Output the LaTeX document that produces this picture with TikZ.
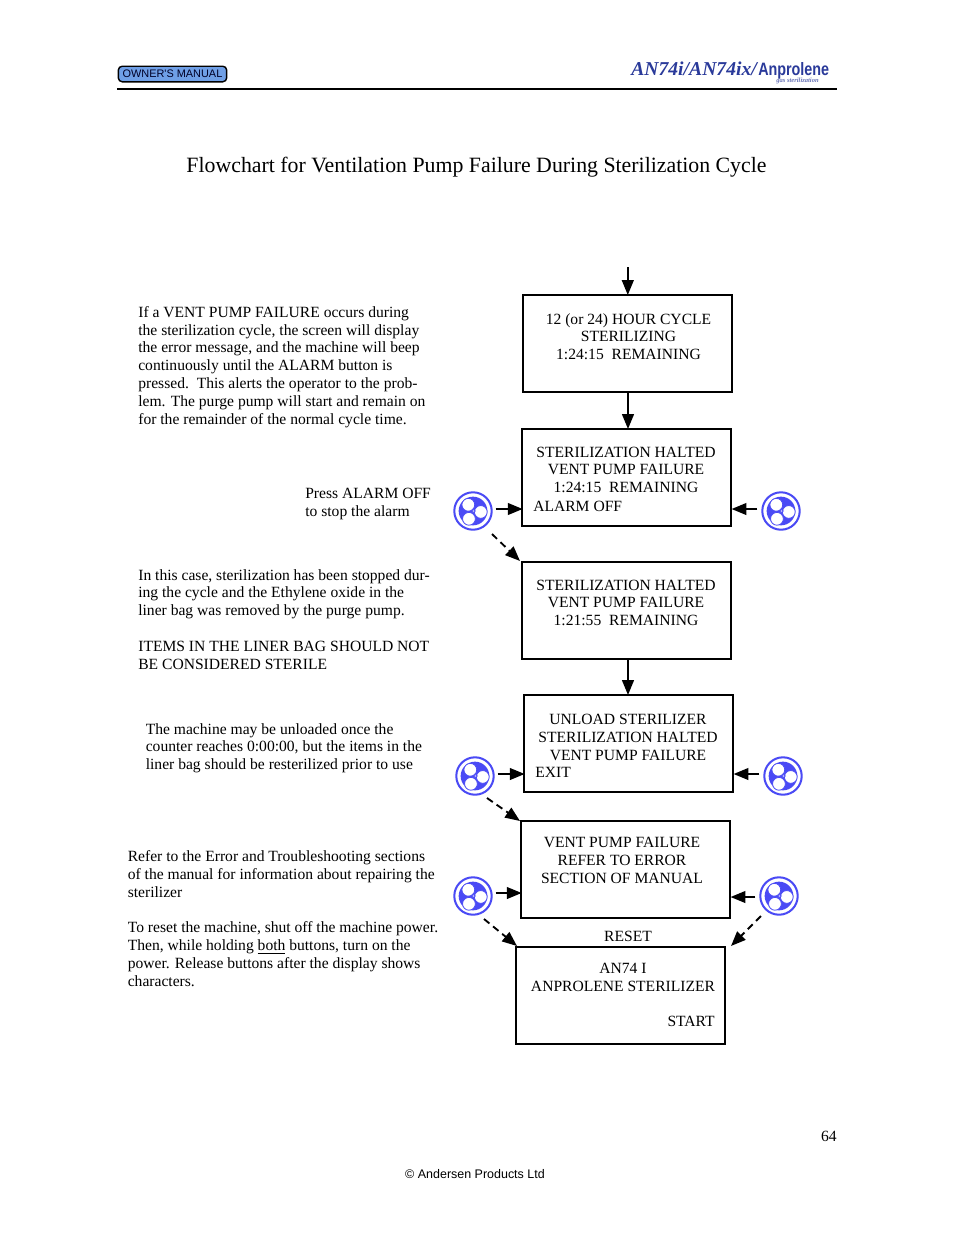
\documentclass[tikz,border=0pt]{standalone}
\usepackage{fontspec}
\setmainfont{Liberation Serif}
\newfontfamily\hdsans{Liberation Sans}
\usetikzlibrary{arrows.meta,calc}
\definecolor{fanblue}{HTML}{4A4AF5}
\definecolor{badge}{HTML}{6F9FE6}
\definecolor{logoblue}{HTML}{2A3A9A}
\tikzset{
  x=0.6415pt,y=-0.6415pt,
  box/.style={draw=black,line width=1.25pt,inner sep=0pt,outer sep=0pt,minimum width=134pt,minimum height=62.2pt,anchor=north west},
  txt/.style={inner sep=0pt,align=left,anchor=north west,font=\fontsize{10}{11.45}\selectfont},
  ctr/.style={inner sep=0pt,align=center,anchor=north,font=\fontsize{10}{11.45}\selectfont},
  arr/.style={line width=1.2pt,-{Triangle[length=9.5pt,width=7.5pt]}},
  darr/.style={line width=1.2pt,dash pattern=on 4.5pt off 3pt,-{Triangle[length=9.5pt,width=7.5pt]}},
  fan/.style={circle,inner sep=0pt,minimum size=24pt,
    path picture={
      \coordinate (c) at (path picture bounding box.center);
      \fill[fanblue] (c) circle[radius=9.2pt];
      \draw[fanblue,line width=.5pt,fill=white] ($(c)+(-3pt,4pt)$) circle[radius=4.1pt];
      \draw[fanblue,line width=.5pt,fill=white] ($(c)+(5pt,-.6pt)$) circle[radius=4.1pt];
      \draw[fanblue,line width=.5pt,fill=white] ($(c)+(-2.6pt,-5pt)$) circle[radius=4.1pt];
      \draw[fanblue,line width=.4pt,fill=white] ($(c)+(-.2pt,1.1pt)$)--($(c)+(1.6pt,0pt)$)--($(c)+(-.2pt,-1.1pt)$)--cycle;
    },
    draw=fanblue,line width=1.3pt}
}
\begin{document}
\begin{tikzpicture}
\useasboundingbox[fill=white] (0,0) rectangle (954,1235);
% header
\node[draw=black,line width=.9pt,fill=badge,rounded corners=2.5pt,inner sep=0pt,minimum width=69.5pt,minimum height=10pt,font=\hdsans\fontsize{7}{7}\selectfont,text=black!85!blue] (badgebox) at (172.5,74) {OWNER'S MANUAL};
\coordinate (ruleL) at (117,89);
\coordinate (ruleR) at (837,89);
\draw[line width=1.5pt] (ruleL) -- (ruleR);
\node[inner sep=0pt,anchor=base west,text=logoblue,font=\fontsize{12.6}{12.6}\selectfont\bfseries\itshape] (logoa) at (631,75) {AN74i/AN74ix/};
\node[inner sep=0pt,anchor=base west,text=logoblue,xscale=.8,font=\hdsans\fontsize{11.5}{11.5}\selectfont\bfseries] (logob) at (758,75) {Anprolene};
\node[inner sep=0pt,anchor=base west,text=logoblue!70,font=\fontsize{4.2}{4.2}\selectfont\itshape\bfseries] (logoc) at (776,82.5) {gas sterilization};
% title
\node[inner sep=0pt,anchor=base,font=\fontsize{14}{14}\selectfont] (title) at (476.5,172) {Flowchart for Ventilation Pump Failure During Sterilization Cycle};
% boxes
\node[box] (b1) at (523,295) {};
\node[box] (b2) at (522,429) {};
\node[box] (b3) at (522,562) {};
\node[box] (b4) at (524,695) {};
\node[box] (b5) at (521,821) {};
\node[box] (b6) at (516,947) {};
% box texts
\node[ctr] (t1) at (628.5,313) {12 (or 24) HOUR CYCLE\\STERILIZING\\1:24:15\ \ REMAINING};
\node[ctr] (t2) at (626,446.5) {STERILIZATION HALTED\\VENT PUMP FAILURE\\1:24:15\ \ REMAINING};
\node[txt] (t2b) at (533,501) {ALARM OFF};
\node[ctr] (t3) at (626,579.5) {STERILIZATION HALTED\\VENT PUMP FAILURE\\1:21:55\ \ REMAINING};
\node[ctr] (t4) at (628,714) {UNLOAD STERILIZER\\STERILIZATION HALTED\\VENT PUMP FAILURE};
\node[txt] (t4b) at (535,767) {EXIT};
\node[ctr] (t5) at (622,837) {VENT PUMP FAILURE\\REFER TO ERROR\\SECTION OF MANUAL};
\node[ctr] (t5b) at (628,931) {RESET};
\node[ctr] (t6) at (623,963) {AN74 I\\ANPROLENE STERILIZER};
\node[inner sep=0pt,anchor=north east,font=\fontsize{10}{11.45}\selectfont] (t6b) at (715,1016) {START};
% side texts
\node[txt] (s1) at (138,306) {If a VENT PUMP FAILURE occurs during\\the sterilization cycle, the screen will display\\the error message, and the machine will beep\\continuously until the ALARM button is\\pressed.\ \ This alerts the operator to the prob-\\lem. The purge pump will start and remain on\\for the remainder of the normal cycle time.};
\node[txt] (s2) at (305,488) {Press ALARM OFF\\to stop the alarm};
\node[txt] (s3) at (138,569) {In this case, sterilization has been stopped dur-\\ing the cycle and the Ethylene oxide in the\\liner bag was removed by the purge pump.\\[\baselineskip]ITEMS IN THE LINER BAG SHOULD NOT\\BE CONSIDERED STERILE};
\node[txt] (s4) at (145.5,723) {The machine may be unloaded once the\\counter reaches 0:00:00, but the items in the\\liner bag should be resterilized prior to use};
\node[txt] (s5) at (127.5,850) {Refer to the Error and Troubleshooting sections\\of the manual for information about repairing the\\sterilizer\\[\baselineskip]To reset the machine, shut off the machine power.\\Then, while holding \underline{both} buttons, turn on the\\power. Release buttons after the display shows\\characters.};
% fans
\node[fan] (f1) at (473,511) {};
\node[fan] (f2) at (781,511) {};
\node[fan] (f3) at (475,776) {};
\node[fan] (f4) at (783,776) {};
\node[fan] (f5) at (473,896) {};
\node[fan] (f6) at (779,896) {};
% connectors
\coordinate (top) at (627.8,267);
\coordinate (m1) at (628,300);
\draw[arr] (top) -- (top |- b1.north);
\draw[arr] (m1 |- b1.south) -- (m1 |- b2.north);
\draw[arr] (m1 |- b3.south) -- (m1 |- b4.north);
\draw[arr,shorten >=1.5pt] ([shift={(3,-2)}]f1.east) -- ([shift={(3,-2)}]f1.east -| b2.west);
\draw[arr,shorten >=3pt] ([shift={(-4,-2)}]f2.west) -- ([shift={(-4,-2)}]f2.west -| b2.east);
\draw[arr,shorten >=1.5pt] ([shift={(3,-2)}]f3.east) -- ([shift={(3,-2)}]f3.east -| b4.west);
\draw[arr,shorten >=3pt] ([shift={(-4,-2)}]f4.west) -- ([shift={(-4,-2)}]f4.west -| b4.east);
\draw[arr,shorten >=1.5pt] ([shift={(3,-3)}]f5.east) -- ([shift={(3,-3)}]f5.east -| b5.west);
\draw[arr,shorten >=3pt] ([shift={(-4,1)}]f6.west) -- ([shift={(-4,1)}]f6.west -| b5.east);
\coordinate (d1) at (492,534); \coordinate (d1e) at (520,561);
\coordinate (d2) at (487,798); \coordinate (d2e) at (520,821);
\coordinate (d3) at (484,919); \coordinate (d3e) at (517,946);
\coordinate (d4) at (761,916); \coordinate (d4e) at (731,946);
\draw[darr] (d1) -- (d1e);
\draw[darr] (d2) -- (d2e);
\draw[darr] (d3) -- (d3e);
\draw[darr] (d4) -- (d4e);
% footer
\node[inner sep=0pt,anchor=base east,font=\fontsize{10}{10}\selectfont] (pg) at (837,1141) {64};
\node[inner sep=0pt,anchor=base,font=\hdsans\fontsize{8}{8}\selectfont] (foot) at (475,1178) {© Andersen Products Ltd};
\end{tikzpicture}
\end{document}
